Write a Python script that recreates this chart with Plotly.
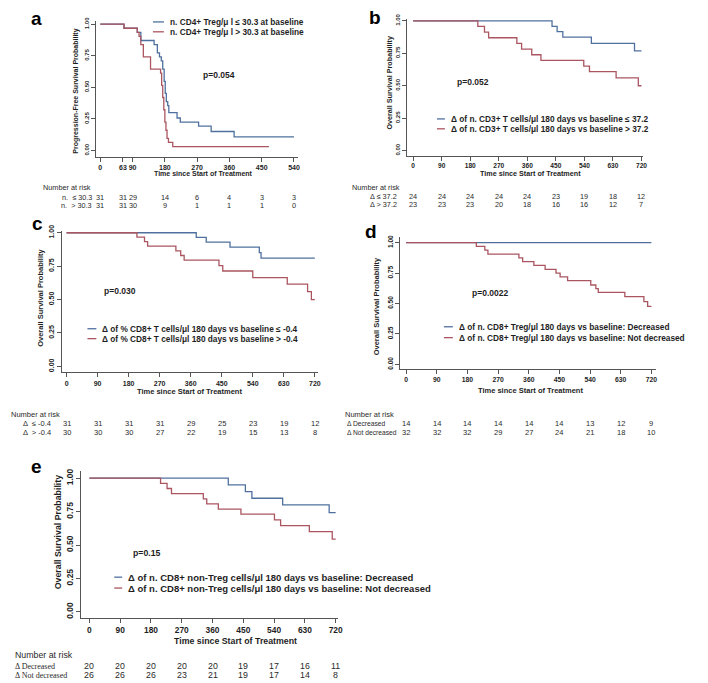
import plotly.graph_objects as go

W, H = 708, 683
OFF = 8  # the page body adds an 8px margin around the figure
BLUE = "#4f709e"
RED = "#aa5560"
INK = "#1e1e1e"
SANS = "Liberation Sans, Arial, sans-serif"
SERIF = "Liberation Serif, Times New Roman, serif"

# ---- survival curves: time (days) and survival probability ----
a_low_t = [0, 66, 103, 113, 150, 159, 165, 170, 174, 178, 181, 184, 188, 191, 214, 223, 274, 309, 373, 540]
a_low_s = [1, 0.968, 0.935, 0.871, 0.839, 0.774, 0.742, 0.71, 0.645, 0.548, 0.452, 0.387, 0.355, 0.30,
           0.258, 0.226, 0.194, 0.151, 0.108, 0.108]
a_high_t = [0, 66, 103, 108, 113, 120, 140, 168, 171, 174, 177, 180, 183, 186, 190, 202, 470]
a_high_s = [1, 0.968, 0.935, 0.903, 0.839, 0.742, 0.645, 0.613, 0.516, 0.42, 0.323, 0.226, 0.161,
            0.097, 0.065, 0.032, 0.032]

b_low_t = [0, 438, 454, 472, 562, 698, 720]
b_low_s = [1, 0.958, 0.917, 0.875, 0.827, 0.769, 0.769]
b_high_t = [0, 204, 225, 238, 327, 342, 374, 403, 538, 556, 640, 710, 720]
b_high_s = [1, 0.957, 0.913, 0.870, 0.826, 0.783, 0.739, 0.696, 0.652, 0.609, 0.560, 0.50, 0.50]

c_low_t = [0, 376, 405, 474, 559, 564, 720]
c_low_s = [1, 0.965, 0.930, 0.893, 0.852, 0.810, 0.810]
c_high_t = [0, 204, 226, 235, 317, 331, 341, 442, 453, 540, 640, 699, 710, 720]
c_high_s = [1, 0.967, 0.933, 0.90, 0.865, 0.830, 0.795, 0.754, 0.714, 0.665, 0.616, 0.56, 0.50, 0.50]

d_dec_t = [0, 720]
d_dec_s = [1, 1]
d_not_t = [0, 206, 231, 240, 331, 342, 375, 408, 440, 452, 474, 542, 557, 564, 642, 698, 709, 720]
d_not_s = [1, 0.969, 0.938, 0.906, 0.875, 0.844, 0.813, 0.781, 0.750, 0.719, 0.688, 0.652, 0.622,
           0.591, 0.556, 0.515, 0.476, 0.476]

e_dec_t = [0, 406, 456, 475, 565, 701, 720]
e_dec_s = [1, 0.95, 0.90, 0.85, 0.80, 0.742, 0.742]
e_not_t = [0, 208, 227, 240, 333, 343, 377, 443, 541, 559, 643, 710, 720]
e_not_s = [1, 0.962, 0.923, 0.885, 0.846, 0.808, 0.769, 0.731, 0.689, 0.646, 0.60, 0.545, 0.545]

# ---- numbers at risk ----
risk_t_a = [0, 63, 90, 180, 270, 360, 450, 540]
risk_t_os = [0, 90, 180, 270, 360, 450, 540, 630, 720]
risk_a_low = [31, 31, 29, 14, 6, 4, 3, 3]
risk_a_high = [31, 31, 30, 9, 1, 1, 1, 0]
risk_b_low = [24, 24, 24, 24, 24, 23, 19, 18, 12]
risk_b_high = [23, 23, 23, 20, 18, 16, 16, 12, 7]
risk_c_low = [31, 31, 31, 31, 29, 25, 23, 19, 12]
risk_c_high = [30, 30, 30, 27, 22, 19, 15, 13, 8]
risk_d_dec = [14, 14, 14, 14, 14, 14, 13, 12, 9]
risk_d_not = [32, 32, 32, 29, 27, 24, 21, 18, 10]
risk_e_dec = [20, 20, 20, 20, 20, 19, 17, 16, 11]
risk_e_not = [26, 26, 26, 23, 21, 19, 17, 14, 8]

y_ticks = [0, 0.25, 0.5, 0.75, 1.0]


def fx(x):
    return (x - OFF) / W


def fy(y):
    return 1 - (y - OFF) / H


panels = [
    dict(letter="a", letter_xy=(37, 13), dom_x=(97, 300), dom_y=(15, 152), xr=(-11, 551), yr=(-0.047, 1.026),
         xticks=risk_t_a, xt_size=7, yt_size=6, title_size=7,
         ytitle="Progression-Free Survival Probability", ytitle_xy=(77, 86), xtitle_xy=(205, 169),
         curves=[(a_low_t, a_low_s, BLUE, "n. CD4+ Treg/μ l ≤ 30.3 at baseline"),
                 (a_high_t, a_high_s, RED, "n. CD4+ Treg/μ l > 30.3 at baseline")],
         leg_x=154, leg_sw=11, leg_rows=(16, 26), leg_size=8.3,
         p="p=0.054", p_xy=(221, 70), p_size=8.5,
         risk_head=(41, 183), risk_rows=(193, 201), risk_size=7.3, label_size=7.3,
         risk_labels=["n.  ≤ 30.3", "n.  > 30.3"], label_x=95, label_align="right",
         risk_t=risk_t_a, risk=[risk_a_low, risk_a_high]),
    dict(letter="b", letter_xy=(378, 12), dom_x=(410, 648), dom_y=(13, 151), xr=(-18.8, 726.3), yr=(-0.038, 1.015),
         xticks=risk_t_os, xt_size=6.6, yt_size=6, title_size=7.2,
         ytitle="Overall Survival Probability", ytitle_xy=(392, 78), xtitle_xy=(534, 169),
         curves=[(b_low_t, b_low_s, BLUE, "Δ of n. CD3+ T cells/μl 180 days vs baseline ≤ 37.2"),
                 (b_high_t, b_high_s, RED, "Δ of n. CD3+ T cells/μl 180 days vs baseline > 37.2")],
         leg_x=440, leg_sw=8, leg_rows=(114, 124), leg_size=8.3,
         p="p=0.052", p_xy=(476, 77), p_size=8.5,
         risk_head=(352, 183), risk_rows=(192, 200), risk_size=7.3, label_size=7.3,
         risk_labels=["Δ ≤ 37.2", "Δ > 37.2"], label_x=402, label_align="right",
         risk_t=risk_t_os, risk=[risk_b_low, risk_b_high]),
    dict(letter="c", letter_xy=(38, 220), dom_x=(62, 320), dom_y=(227, 370), xr=(-14.4, 728.6), yr=(-0.044, 1.015),
         xticks=risk_t_os, xt_size=7, yt_size=7, title_size=7.5,
         ytitle="Overall Survival Probability", ytitle_xy=(40, 295), xtitle_xy=(191, 389),
         curves=[(c_low_t, c_low_s, BLUE, "Δ of % CD8+ T cells/μl 180 days vs baseline ≤ -0.4"),
                 (c_high_t, c_high_s, RED, "Δ of % CD8+ T cells/μl 180 days vs baseline > -0.4")],
         leg_x=88, leg_sw=9, leg_rows=(326, 336), leg_size=8.3,
         p="p=0.030", p_xy=(121, 288), p_size=8.5,
         risk_head=(9, 413), risk_rows=(422, 431), risk_size=7.5, label_size=7.5,
         risk_labels=["Δ  ≤ -0.4", "Δ  > -0.4"], label_x=53, label_align="right",
         risk_t=risk_t_os, risk=[risk_c_low, risk_c_high]),
    dict(letter="d", letter_xy=(374, 228), dom_x=(403, 661), dom_y=(233, 367), xr=(-17.5, 734.7), yr=(-0.041, 1.049),
         xticks=risk_t_os, xt_size=6.8, yt_size=6.5, title_size=7.5,
         ytitle="Overall Survival Probability", ytitle_xy=(380, 303), xtitle_xy=(534, 388),
         curves=[(d_dec_t, d_dec_s, BLUE, "Δ of n. CD8+ Treg/μl 180 days vs baseline: Decreased"),
                 (d_not_t, d_not_s, RED, "Δ of n. CD8+ Treg/μl 180 days vs baseline: Not decreased")],
         leg_x=447, leg_sw=9, leg_rows=(324, 335), leg_size=8.3,
         p="p=0.0022", p_xy=(493, 290), p_size=8.5,
         risk_head=(345, 413), risk_rows=(422, 431), risk_size=7.5, label_size=6.7,
         risk_labels=["Δ Decreased", "Δ Not decreased"], label_x=347, label_align="left",
         risk_t=risk_t_os, risk=[risk_d_dec, risk_d_not]),
    dict(letter="e", letter_xy=(37, 465), dom_x=(82, 340), dom_y=(470, 618), xr=(-23.2, 725.8), yr=(-0.044, 1.052),
         xticks=risk_t_os, xt_size=8.4, yt_size=8.5, title_size=8.8,
         ytitle="Overall Survival Probability", ytitle_xy=(58, 531), xtitle_xy=(237, 641),
         curves=[(e_dec_t, e_dec_s, BLUE, "Δ of n. CD8+ non-Treg cells/μl 180 days vs baseline: Decreased"),
                 (e_not_t, e_not_s, RED, "Δ of n. CD8+ non-Treg cells/μl 180 days vs baseline: Not decreased")],
         leg_x=115, leg_sw=8, leg_rows=(577, 588), leg_size=9.5,
         p="p=0.15", p_xy=(147, 553), p_size=8.7,
         risk_head=(13, 656), risk_rows=(667, 676), risk_size=8.8, label_size=8, label_font=SERIF,
         risk_labels=["Δ Decreased", "Δ Not decreased"], label_x=13, label_align="left",
         risk_t=risk_t_os, risk=[risk_e_dec, risk_e_not]),
]

fig = go.Figure()
annotations = []
shapes = []
layout = {}


def bold(size):
    return dict(family=SANS, size=size, color=INK, weight="bold")


for i, p in enumerate(panels, start=1):
    sfx = "" if i == 1 else str(i)
    xref, yref = f"x{sfx}", f"y{sfx}"

    for t, s, color, name in p["curves"]:
        fig.add_trace(go.Scatter(x=t, y=s, mode="lines", line=dict(color=color, width=1.3, shape="hv"),
                                 name=name, xaxis=xref, yaxis=yref, showlegend=False, hoverinfo="skip"))

    axis_common = dict(showline=True, linecolor="#555", linewidth=1, ticks="outside", ticklen=4,
                       tickcolor="#555", showgrid=False, zeroline=False)
    layout[f"xaxis{sfx}"] = dict(domain=[fx(p["dom_x"][0]), fx(p["dom_x"][1])], range=list(p["xr"]),
                                 anchor=yref, tickvals=p["xticks"], tickangle=0,
                                 tickfont=bold(p["xt_size"]), **axis_common)
    layout[f"yaxis{sfx}"] = dict(domain=[fy(p["dom_y"][1]), fy(p["dom_y"][0])], range=list(p["yr"]),
                                 anchor=xref, tickvals=y_ticks, tickformat=".2f", tickangle=-90,
                                 tickfont=bold(p["yt_size"]), **axis_common)

    # panel letter
    annotations.append(dict(text=p["letter"], x=fx(p["letter_xy"][0]), y=fy(p["letter_xy"][1]),
                            xref="paper", yref="paper", showarrow=False,
                            font=dict(family=SANS, size=19, color="#000", weight="bold"),
                            xanchor="center", yanchor="middle"))
    # axis titles
    annotations.append(dict(text=p["ytitle"], x=fx(p["ytitle_xy"][0]), y=fy(p["ytitle_xy"][1]),
                            xref="paper", yref="paper", showarrow=False, textangle=-90,
                            font=bold(p["title_size"]), xanchor="center", yanchor="middle"))
    annotations.append(dict(text="Time since Start of Treatment", x=fx(p["xtitle_xy"][0]),
                            y=fy(p["xtitle_xy"][1]), xref="paper", yref="paper", showarrow=False,
                            font=bold(p["title_size"]), xanchor="center", yanchor="middle"))
    # p-value
    annotations.append(dict(text=p["p"], x=fx(p["p_xy"][0]), y=fy(p["p_xy"][1]), xref="paper", yref="paper",
                            showarrow=False, font=bold(p["p_size"]), xanchor="center", yanchor="middle"))
    # legend (short line swatch + text)
    for (t, s, color, name), ry in zip(p["curves"], p["leg_rows"]):
        shapes.append(dict(type="line", xref="paper", yref="paper", x0=fx(p["leg_x"]),
                           x1=fx(p["leg_x"] + p["leg_sw"]), y0=fy(ry), y1=fy(ry),
                           line=dict(color=color, width=1.3)))
        annotations.append(dict(text=name, x=fx(p["leg_x"] + p["leg_sw"] + 4), y=fy(ry), xref="paper",
                                yref="paper", showarrow=False, font=bold(p["leg_size"]),
                                xanchor="left", yanchor="middle"))
    # number at risk table
    reg = dict(family=SANS, size=p["risk_size"], color="#2a2a2a")
    label_font = dict(reg, family=p.get("label_font", SANS), size=p["label_size"])
    annotations.append(dict(text="Number at risk", x=fx(p["risk_head"][0]), y=fy(p["risk_head"][1]),
                            xref="paper", yref="paper", showarrow=False, font=reg,
                            xanchor="left", yanchor="middle"))
    for label, ry, counts in zip(p["risk_labels"], p["risk_rows"], p["risk"]):
        annotations.append(dict(text=label, x=fx(p["label_x"]), y=fy(ry), xref="paper", yref="paper",
                                showarrow=False, font=label_font, xanchor=p["label_align"], yanchor="middle"))
        for t, n in zip(p["risk_t"], counts):
            annotations.append(dict(text=str(n), x=t, xref=xref, y=fy(ry), yref="paper", showarrow=False,
                                    font=reg, xanchor="center", yanchor="middle"))

fig.update_layout(**layout)
fig.update_layout(
    width=W,
    height=H,
    margin=dict(l=0, r=0, t=0, b=0),
    paper_bgcolor="white",
    plot_bgcolor="white",
    showlegend=False,
    annotations=annotations,
    shapes=shapes,
)

fig.write_html("out.html")
